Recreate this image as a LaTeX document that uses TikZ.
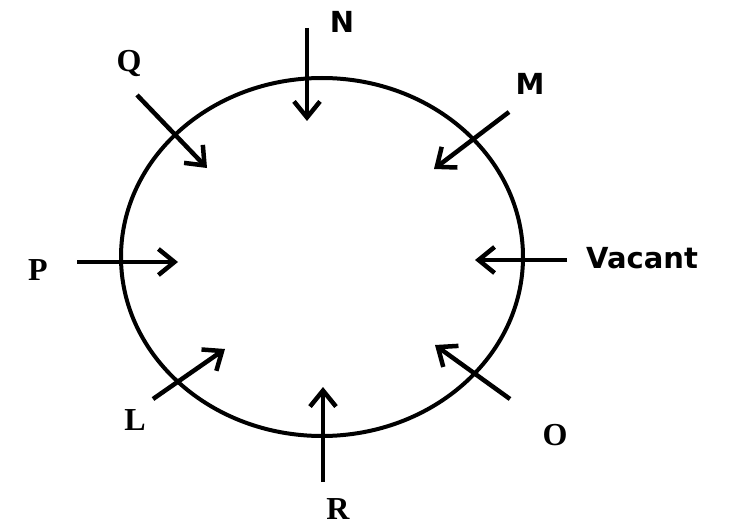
\documentclass[tikz,border=0pt]{standalone}
\usepackage{fontspec}
\setmainfont{Liberation Serif}
\newfontfamily\lblsans{DejaVu Sans}
\usetikzlibrary{arrows.meta}
\tikzset{
  ring/.style={line width=4pt},
  pointer/.style={line width=4.5pt,-{Straight Barb[length=16pt,width=26pt]}},
  serlbl/.style={font=\fontsize{32}{36}\selectfont\bfseries,inner sep=0pt},
  sanlbl/.style={font=\lblsans\fontsize{29}{34}\selectfont\bfseries,inner sep=0pt}
}
\begin{document}
\begin{tikzpicture}[x=1pt,y=-1pt]
\useasboundingbox (0,0) rectangle (732,527);
\fill[white] (0,0) rectangle (732,527);
\draw[ring] (322,257) ellipse [x radius=201, y radius=179];
% arrow endpoints
\coordinate (n1) at (307,28);  \coordinate (n2) at (307,121);
\coordinate (q1) at (137,95);  \coordinate (q2) at (207,168);
\coordinate (m1) at (509,112); \coordinate (m2) at (434,169);
\coordinate (v1) at (567,260); \coordinate (v2) at (475,260);
\coordinate (p1) at (77,262);  \coordinate (p2) at (178,262);
\coordinate (l1) at (153,399); \coordinate (l2) at (225,349);
\coordinate (r1) at (323,482); \coordinate (r2) at (323,387);
\coordinate (o1) at (510,399); \coordinate (o2) at (435,345);
\foreach \a in {n,q,m,v,p,l,r,o}{\draw[pointer] (\a1) -- (\a2);}
% labels
\node[sanlbl] (N) at (342,22) {N};
\node[sanlbl] (M) at (530,84) {M};
\node[sanlbl,anchor=west] (Vac) at (586,258) {Vacant};
\node[serlbl] (Q) at (129,64) {Q};
\node[serlbl] (P) at (38,270) {P};
\node[serlbl] (L) at (135,420) {L};
\node[serlbl] (R) at (338,509) {R};
\node[serlbl] (O) at (555,435) {O};
\end{tikzpicture}
\end{document}
